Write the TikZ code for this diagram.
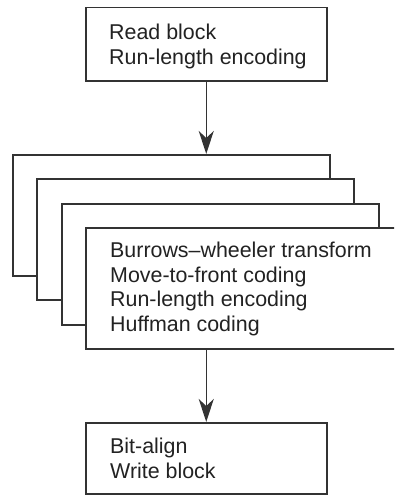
\documentclass[tikz,border=0pt]{standalone}
\usepackage{fontspec}
\setmainfont{Liberation Sans}
\usetikzlibrary{arrows.meta}
\definecolor{ln}{HTML}{333333}
\definecolor{tx}{HTML}{222222}
\newcommand\fststrut{\rule{0pt}{16pt}}
\begin{document}
\begin{tikzpicture}[x=1pt,y=-1pt,
  box/.style={draw=ln, line width=1.5pt, fill=white, rectangle, inner sep=0pt, anchor=north west},
  stackbox/.style={box, minimum width=317pt, minimum height=121pt},
  lbl/.style={text=tx, font=\fontsize{21.4}{24.8}\selectfont, align=left, inner sep=0pt, anchor=north west},
  arr/.style={draw=ln, line width=1.5pt, -{Stealth[length=23pt,width=15pt,inset=7pt]}}]
\useasboundingbox (0,0) rectangle (394,495);
\clip (0,0) rectangle (394,495);
% top box
\node[box, minimum width=241pt, minimum height=73pt] (top) at (85,7) {};
\node[lbl] (toptext) at (109,23) {\fststrut Read block\\Run-length encoding};
% stacked boxes
\node[stackbox] (b1) at (12,154) {};
\node[stackbox] (b2) at (36,178) {};
\node[stackbox] (b3) at (61,203) {};
\node[stackbox] (b4) at (85,227) {};
\node[lbl] (stacktext) at (110,241) {\fststrut Burrows--wheeler transform\\Move-to-front coding\\Run-length encoding\\Huffman coding};
% bottom box
\node[box, minimum width=241pt, minimum height=71pt] (bot) at (85,422) {};
\node[lbl] (bottext) at (110,437) {\fststrut Bit-align\\Write block};
% connectors
\draw[arr] (top.south) -- (top.south |- b1.north);
\draw[arr] (bot.north |- b4.south) -- (bot.north);
\end{tikzpicture}
\end{document}
